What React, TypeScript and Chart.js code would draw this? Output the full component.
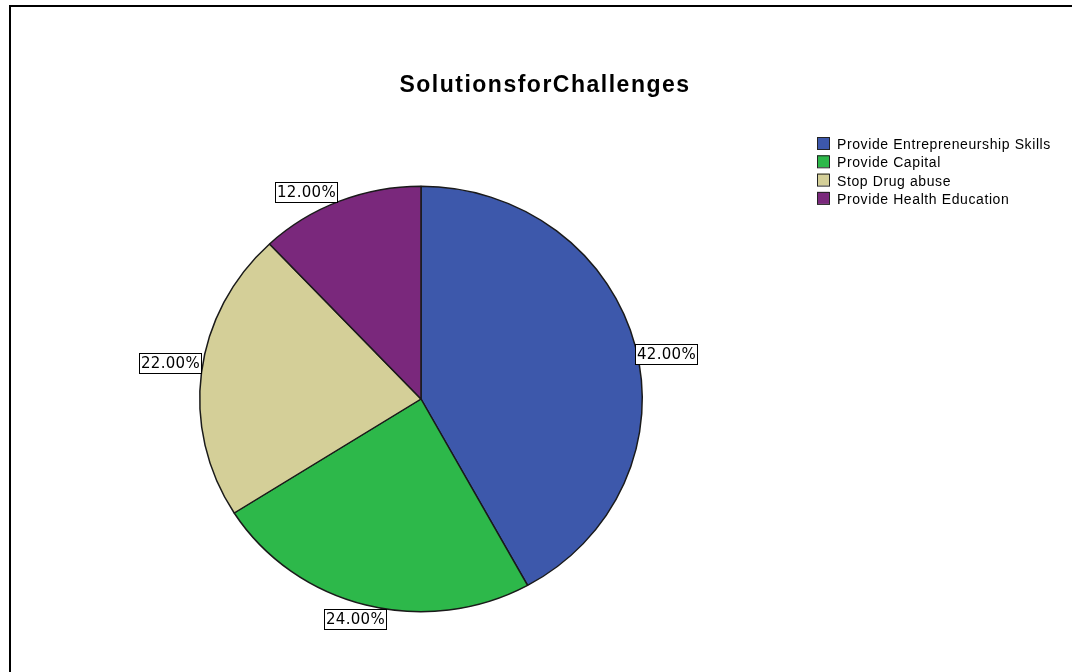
import React, { useEffect, useRef } from "react";
import { Chart, registerables } from "chart.js";

Chart.register(...registerables);

const chartTitle = "SolutionsforChallenges";
const categories = [
  "Provide Entrepreneurship Skills",
  "Provide Capital",
  "Stop Drug abuse",
  "Provide Health Education",
];
const percentages = [42, 24, 22, 12];
const sliceColors = ["#3d58ab", "#2db84a", "#d4cf98", "#7a287c"];

const V_SCALE = 425 / 442;

export default function App() {
  const ref = useRef<HTMLCanvasElement | null>(null);

  useEffect(() => {
    document.body.style.margin = "0";
    const canvas = ref.current;
    if (!canvas) return;

    const ellipsePlugin = {
      id: "ellipse",
      beforeDatasetsDraw(chart: any) {
        const ctx = chart.ctx;
        const cy = (chart.chartArea.top + chart.chartArea.bottom) / 2;
        ctx.save();
        ctx.translate(0, cy);
        ctx.scale(1, V_SCALE);
        ctx.translate(0, -cy);
      },
      afterDatasetsDraw(chart: any) {
        chart.ctx.restore();
      },
    };

    const decorPlugin = {
      id: "decor",
      beforeDraw(chart: any) {
        const ctx = chart.ctx;
        ctx.save();
        ctx.fillStyle = "#ffffff";
        ctx.fillRect(0, 0, chart.width, chart.height);
        ctx.restore();
      },
      afterDraw(chart: any) {
        const ctx = chart.ctx;
        ctx.save();
        // frame
        ctx.fillStyle = "#000000";
        ctx.fillRect(9, 5, chart.width - 9, 2);
        ctx.fillRect(9, 5, 2, chart.height - 5);

        // title
        ctx.font = "bold 23px 'Liberation Sans', Arial, sans-serif";
        (ctx as any).letterSpacing = "1.5px";
        ctx.textAlign = "left";
        ctx.textBaseline = "alphabetic";
        ctx.fillStyle = "#000000";
        const tw = ctx.measureText(chartTitle).width;
        ctx.fillText(chartTitle, 545 - tw / 2, 92);

        // legend
        ctx.font = "14px 'Liberation Sans', Arial, sans-serif";
        (ctx as any).letterSpacing = "0.6px";
        ctx.textAlign = "left";
        categories.forEach((label, i) => {
          const y = 137 + i * 18.3;
          ctx.fillStyle = sliceColors[i];
          ctx.fillRect(817, y, 12, 12);
          ctx.strokeStyle = "#222222";
          ctx.lineWidth = 1;
          ctx.strokeRect(817.5, y + 0.5, 12, 12);
          ctx.fillStyle = "#000000";
          ctx.fillText(label, 837, y + 12);
        });

        // value labels
        (ctx as any).letterSpacing = "0.3px";
        const meta = chart.getDatasetMeta(0);
        const cy = (chart.chartArea.top + chart.chartArea.bottom) / 2;
        ctx.font = "15px 'DejaVu Sans', sans-serif";
        meta.data.forEach((arc: any, i: number) => {
          const p = arc.getProps(["x", "y", "startAngle", "endAngle", "outerRadius"], true);
          const mid = (p.startAngle + p.endAngle) / 2;
          const c = Math.cos(mid);
          const s = Math.sin(mid);
          const px = p.x + c * p.outerRadius;
          const py = cy + s * p.outerRadius * V_SCALE;
          const text = percentages[i].toFixed(2) + "%";
          const w = ctx.measureText(text).width + 3;
          const h = 20;
          let left: number;
          let top: number;
          if (Math.abs(c) < 0.35) {
            left = px - w / 2 - 11;
            top = py + 4;
          } else if (c > 0) {
            left = px;
            top = py - 2;
          } else if (s < -0.5) {
            left = px - w - 3;
            top = py - h + 1;
          } else {
            left = px - w;
            top = py - h + 1;
          }
          left = Math.round(left);
          top = Math.round(top);
          ctx.fillStyle = "#ffffff";
          ctx.fillRect(left, top, w, h);
          ctx.strokeStyle = "#000000";
          ctx.lineWidth = 1;
          ctx.strokeRect(left + 0.5, top + 0.5, w, h);
          ctx.fillStyle = "#000000";
          ctx.textAlign = "left";
          ctx.textBaseline = "middle";
          ctx.fillText(text, left + 2, top + h / 2 + 1);
        });
        ctx.restore();
      },
    };

    const chart = new Chart(canvas, {
      type: "pie",
      data: {
        labels: categories,
        datasets: [
          {
            data: percentages,
            backgroundColor: sliceColors,
            borderColor: "#1a1a1a",
            borderWidth: 1.5,
          },
        ],
      },
      options: {
        responsive: false,
        animation: false,
        layout: { padding: { left: 199, right: 429, top: 177, bottom: 51 } },
        plugins: {
          legend: { display: false },
          title: { display: false },
          tooltip: { enabled: false },
        },
      },
      plugins: [ellipsePlugin, decorPlugin],
    });

    return () => chart.destroy();
  }, []);

  return (
    <div style={{ position: "absolute", left: 0, top: 0, width: 1072, height: 672 }}>
      <canvas ref={ref} width={1072} height={672} style={{ width: 1072, height: 672 }} />
    </div>
  );
}
